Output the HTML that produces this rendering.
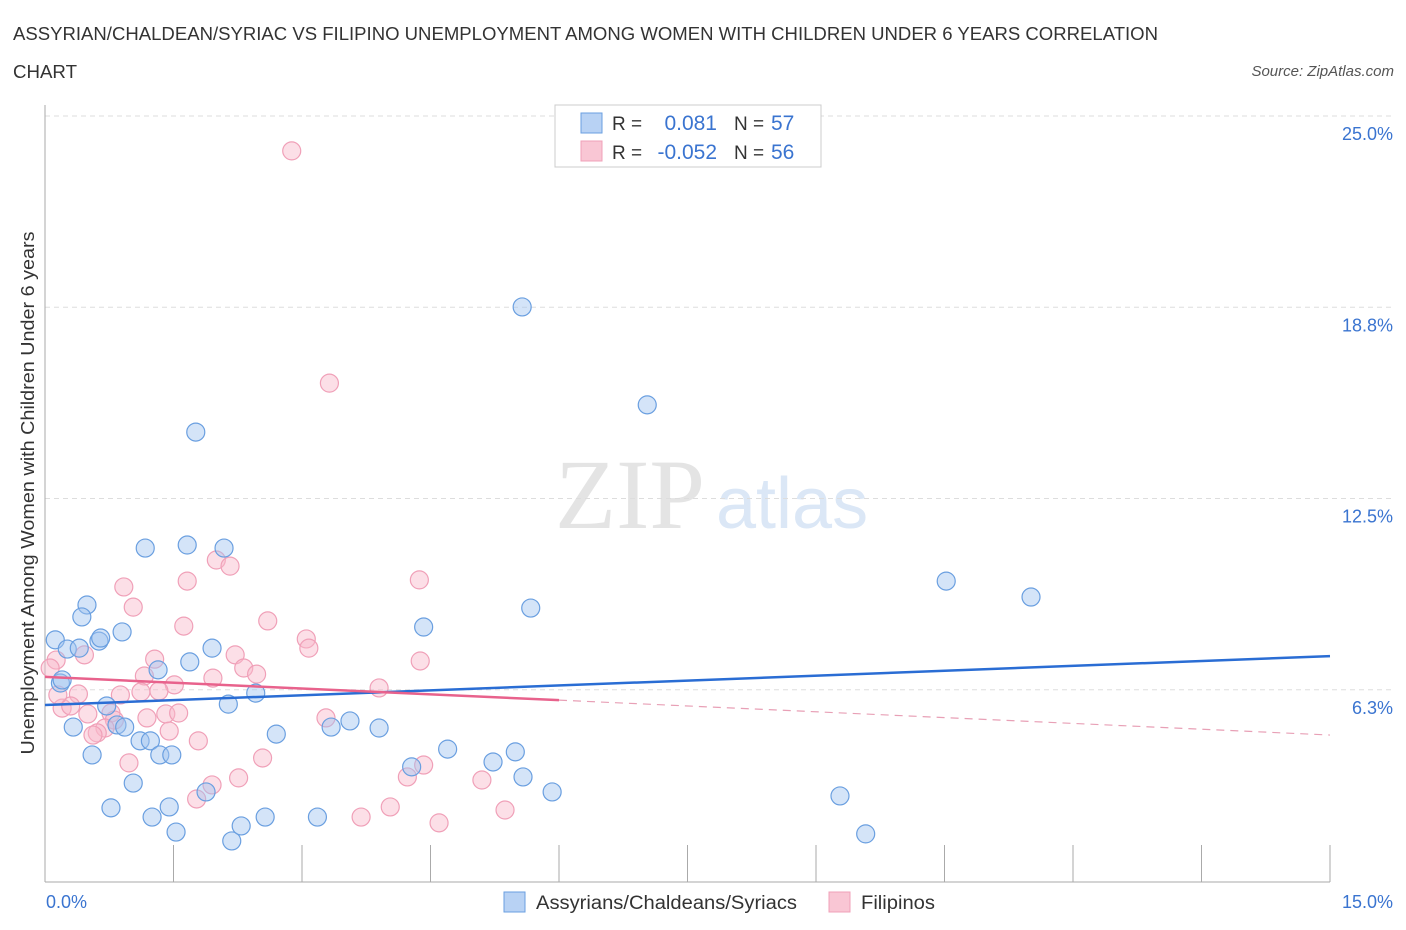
<!DOCTYPE html>
<html><head><meta charset="utf-8"><style>
body{margin:0;background:#fff;width:1406px;height:930px;overflow:hidden;font-family:"Liberation Sans",sans-serif}
svg{position:absolute;left:0;top:0}
</style></head><body>
<svg id="chart" width="1406" height="930">
<text x="13" y="40" font-size="18" fill="#333" textLength="1145" lengthAdjust="spacingAndGlyphs">ASSYRIAN/CHALDEAN/SYRIAC VS FILIPINO UNEMPLOYMENT AMONG WOMEN WITH CHILDREN UNDER 6 YEARS CORRELATION</text>
<text x="13" y="78" font-size="18" fill="#333" textLength="64" lengthAdjust="spacingAndGlyphs">CHART</text>
<text x="1394" y="76" font-size="15" fill="#555" font-style="italic" text-anchor="end">Source: ZipAtlas.com</text>
<text x="555" y="528" font-size="100" fill="#e4e4e4" font-family="Liberation Serif,serif">ZIP</text>
<text x="716" y="528" font-size="72" fill="#dbe7f6">atlas</text>
<g id="grid"></g>
<g id="pts"></g>
<g id="trend"></g>
<text transform="translate(34,493) rotate(-90)" font-size="18" fill="#333" text-anchor="middle" textLength="523" lengthAdjust="spacingAndGlyphs">Unemployment Among Women with Children Under 6 years</text>
<text x="46" y="908" font-size="18" fill="#3a74d0">0.0%</text>
<text x="1393" y="908" font-size="18" fill="#3a74d0" text-anchor="end">15.0%</text>
<g>
<rect x="555" y="105" width="266" height="62" fill="#fff" stroke="#ccc"/>
<rect x="581" y="113" width="21" height="20" fill="#b8d2f4" stroke="#6a9fe0"/>
<rect x="581" y="141" width="21" height="20" fill="#f9c6d4" stroke="#f0a0b8"/>
<text x="612" y="130" font-size="19" fill="#333">R =</text>
<text x="717" y="130" font-size="21" fill="#3a74d0" text-anchor="end">0.081</text>
<text x="734" y="130" font-size="19" fill="#333">N =</text>
<text x="771" y="130" font-size="21" fill="#3a74d0">57</text>
<text x="612" y="159" font-size="19" fill="#333">R =</text>
<text x="717" y="159" font-size="21" fill="#3a74d0" text-anchor="end">-0.052</text>
<text x="734" y="159" font-size="19" fill="#333">N =</text>
<text x="771" y="159" font-size="21" fill="#3a74d0">56</text>
</g>
<g>
<rect x="504" y="892" width="21" height="20" fill="#b8d2f4" stroke="#6a9fe0"/>
<text x="536" y="909" font-size="19" fill="#333" textLength="261" lengthAdjust="spacingAndGlyphs">Assyrians/Chaldeans/Syriacs</text>
<rect x="829" y="892" width="21" height="20" fill="#f9c6d4" stroke="#f0a0b8"/>
<text x="861" y="909" font-size="19" fill="#333" textLength="74" lengthAdjust="spacingAndGlyphs">Filipinos</text>
</g>
</svg>
<script>
const yTicks=[6.25,12.5,18.75,25];
const yTickLabels=["6.3%","12.5%","18.8%","25.0%"];
const blueX=[0.12,0.26,0.18,0.20,0.33,0.55,0.49,0.43,0.40,0.63,0.65,0.72,0.77,0.84,0.93,0.90,1.03,1.11,1.23,1.17,1.25,1.32,1.34,1.45,1.48,1.53,1.66,1.69,1.76,1.88,1.95,2.09,2.14,2.18,2.29,2.46,2.57,2.70,3.18,3.34,3.56,3.90,4.28,4.42,4.70,5.23,5.49,5.57,5.58,5.67,5.92,7.03,9.28,9.58,10.52,11.51];
const blueY=[7.88,7.58,6.47,6.57,5.03,4.12,9.02,8.63,7.61,7.84,7.94,5.72,2.39,5.10,5.03,8.14,3.20,4.58,4.58,10.88,2.09,6.90,4.12,2.42,4.12,1.60,10.98,7.16,14.67,2.91,7.61,10.88,5.78,1.31,1.80,6.14,2.09,4.80,2.09,5.03,5.23,5.00,3.73,8.30,4.31,3.89,4.22,18.76,3.40,8.92,2.91,15.56,2.78,1.54,9.80,9.28];
const pinkX=[2.88,3.32,0.92,1.03,2.00,2.16,1.66,1.62,4.37,2.60,3.05,3.08,2.22,1.28,1.16,1.51,1.96,2.32,2.47,4.38,0.46,0.13,0.06,0.39,0.20,0.30,0.50,0.88,1.12,1.33,0.77,0.81,0.70,0.61,0.56,1.19,1.41,1.56,1.45,1.79,0.98,3.28,3.90,2.54,2.26,1.95,1.77,4.23,4.42,5.10,4.03,3.69,4.60,5.37,0.15];
const pinkY=[23.86,16.27,9.61,8.95,10.49,10.29,9.80,8.33,9.84,8.50,7.91,7.61,7.39,7.25,6.70,6.41,6.63,6.96,6.76,7.19,7.39,7.22,6.96,6.11,5.65,5.72,5.46,6.08,6.18,6.21,5.49,5.26,5.00,4.84,4.77,5.33,5.46,5.49,4.90,4.58,3.86,5.33,6.31,4.02,3.37,3.14,2.68,3.40,3.79,3.30,2.42,2.09,1.90,2.32,6.08];
const blueTrend=[5.75,7.35];
const pinkTrend=[6.67,4.77];
const pinkSolidEnd=6.0;
const NS="http://www.w3.org/2000/svg";
const X0=45,X1=1330,Y0=881,YS=30.6;
function sx(v){return X0+(v/15)*(X1-X0);}
function sy(v){return Y0-v*YS;}
function mk(t,a,p){const e=document.createElementNS(NS,t);for(const k in a)e.setAttribute(k,a[k]);p.appendChild(e);return e;}
const grid=document.getElementById('grid');
yTicks.forEach((t,i)=>{
 const l=mk('line',{x1:X0,x2:1394,y1:sy(t),y2:sy(t),stroke:'#ddd','stroke-dasharray':'5,4'},grid);
 
 
 const tx=mk('text',{x:1393,y:sy(t)+24,'font-size':18,fill:'#3a74d0','text-anchor':'end'},grid);
 tx.textContent=yTickLabels[i];
 
 
});
const ax=mk('line',{x1:X0,x2:X1,y1:882,y2:882,stroke:'#aaa'},grid);


const ay=mk('line',{x1:X0,x2:X0,y1:105,y2:882,stroke:'#aaa'},grid);


for(let i=0;i<=10;i++){const x=sx(i*1.5);const t=mk('line',{x1:x,x2:x,y1:845,y2:882,stroke:'#aaa'},grid);
 
 }
const pts=document.getElementById('pts');
pinkX.forEach((v,i)=>{const c=mk('circle',{cx:sx(v),cy:sy(pinkY[i]),r:9,fill:'rgba(248,185,202,0.45)',stroke:'#f0a0b8','stroke-width':1.2},pts);
 
 });
blueX.forEach((v,i)=>{const c=mk('circle',{cx:sx(v),cy:sy(blueY[i]),r:9,fill:'rgba(160,196,240,0.45)',stroke:'#6a9fe0','stroke-width':1.2},pts);
 
 });
const tr=document.getElementById('trend');
const bt=mk('line',{x1:sx(0),y1:sy(blueTrend[0]),x2:sx(15),y2:sy(blueTrend[1]),stroke:'#2a6dd4','stroke-width':2.5},tr);


const pm=pinkTrend[0]+(pinkTrend[1]-pinkTrend[0])*pinkSolidEnd/15;
const pt=mk('line',{x1:sx(0),y1:sy(pinkTrend[0]),x2:sx(pinkSolidEnd),y2:sy(pm),stroke:'#e8628c','stroke-width':2.5},tr);


const pd=mk('line',{x1:sx(pinkSolidEnd),y1:sy(pm),x2:sx(15),y2:sy(pinkTrend[1]),stroke:'#e8a0b6','stroke-width':1.2,'stroke-dasharray':'8,6'},tr);


</script>
</body></html>
